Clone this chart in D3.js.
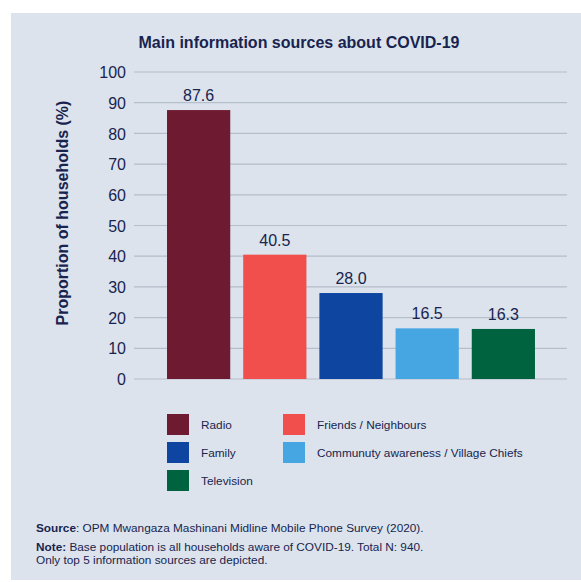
<!DOCTYPE html>
<html>
<head>
<meta charset="utf-8">
<script src="https://cdn.jsdelivr.net/npm/d3@7"></script>
<style>
  html, body { margin: 0; padding: 0; background: #ffffff; }
  svg { display: block; font-family: "Liberation Sans", Arial, sans-serif; }
</style>
</head>
<body>
<svg id="chart" width="581" height="582"></svg>
<script>
// Main information sources about COVID-19
const categories = ["Radio", "Friends / Neighbours", "Family", "Communuty awareness / Village Chiefs", "Television"];
const values = [87.6, 40.5, 28.0, 16.5, 16.3];
const colors = ["#6e1a30", "#f14f4b", "#0e45a0", "#46a6e2", "#00633f"];
const yTicks = [0, 10, 20, 30, 40, 50, 60, 70, 80, 90, 100];
const legendOrder = [0, 2, 4, 1, 3];

const textColor = "#18244f";
const svg = d3.select("#chart");

// panel background
svg.append("rect")
  .attr("x", 11).attr("y", 13)
  .attr("width", 570).attr("height", 567)
  .attr("fill", "#dce3ec");

svg.append("text")
  .attr("x", 299).attr("y", 48)
  .attr("text-anchor", "middle")
  .attr("font-size", 16).attr("font-weight", "bold")
  .attr("fill", textColor)
  .text("Main information sources about COVID-19");

const y = d3.scaleLinear().domain([0, 100]).range([379, 72]);
const x = d3.scaleBand().domain(categories).range([159.4, 542.6])
  .paddingInner(0.17).paddingOuter(0.1);

// gridlines + tick labels
const yAxis = d3.axisLeft(y).tickValues(yTicks).tickSize(0).tickPadding(0);
const gAxis = svg.append("g").attr("transform", "translate(126,0)").call(yAxis);
gAxis.select(".domain").remove();
gAxis.selectAll("text")
  .attr("font-size", 16).attr("fill", textColor)
  .attr("font-family", "Liberation Sans, Arial, sans-serif")
  .attr("dy", "0.35em");

svg.append("g").selectAll("line").data(yTicks).join("line")
  .attr("x1", 134).attr("x2", 567)
  .attr("y1", d => y(d)).attr("y2", d => y(d))
  .attr("stroke", "#b5bec9").attr("stroke-width", 1.2);

svg.append("text")
  .attr("transform", "translate(68,213) rotate(-90)")
  .attr("text-anchor", "middle")
  .attr("font-size", 16).attr("font-weight", "bold")
  .attr("fill", textColor)
  .text("Proportion of households (%)");

// bars
svg.append("g").selectAll("rect").data(values).join("rect")
  .attr("x", (d, i) => x(categories[i]))
  .attr("y", d => y(d))
  .attr("width", x.bandwidth())
  .attr("height", d => y(0) - y(d))
  .attr("fill", (d, i) => colors[i]);

// value labels
svg.append("g").selectAll("text").data(values).join("text")
  .attr("x", (d, i) => x(categories[i]) + x.bandwidth() / 2)
  .attr("y", d => y(d) - 9)
  .attr("text-anchor", "middle")
  .attr("font-size", 16).attr("fill", textColor)
  .text(d => d.toFixed(1));

// legend
const legend = svg.append("g");
legendOrder.forEach((idx, k) => {
  const col = k < 3 ? 0 : 1;
  const row = k < 3 ? k : k - 3;
  const lx = col === 0 ? 167 : 283;
  const ly = 414 + row * 28;
  legend.append("rect")
    .attr("x", lx).attr("y", ly)
    .attr("width", 22).attr("height", 21)
    .attr("fill", colors[idx]);
  legend.append("text")
    .attr("x", lx + 34).attr("y", ly + 15)
    .attr("font-size", 11.8).attr("fill", textColor)
    .text(categories[idx]);
});

// footnotes
const notes = svg.append("g").attr("font-size", 11.8).attr("fill", textColor);
const s = notes.append("text").attr("x", 36).attr("y", 532);
s.append("tspan").attr("font-weight", "bold").text("Source");
s.append("tspan").text(": OPM Mwangaza Mashinani Midline Mobile Phone Survey (2020).");
const n = notes.append("text").attr("x", 36).attr("y", 551);
n.append("tspan").attr("font-weight", "bold").text("Note:");
n.append("tspan").text(" Base population is all households aware of COVID-19. Total N: 940.");
notes.append("text").attr("x", 36).attr("y", 563.5)
  .text("Only top 5 information sources are depicted.");
</script>
</body>
</html>
